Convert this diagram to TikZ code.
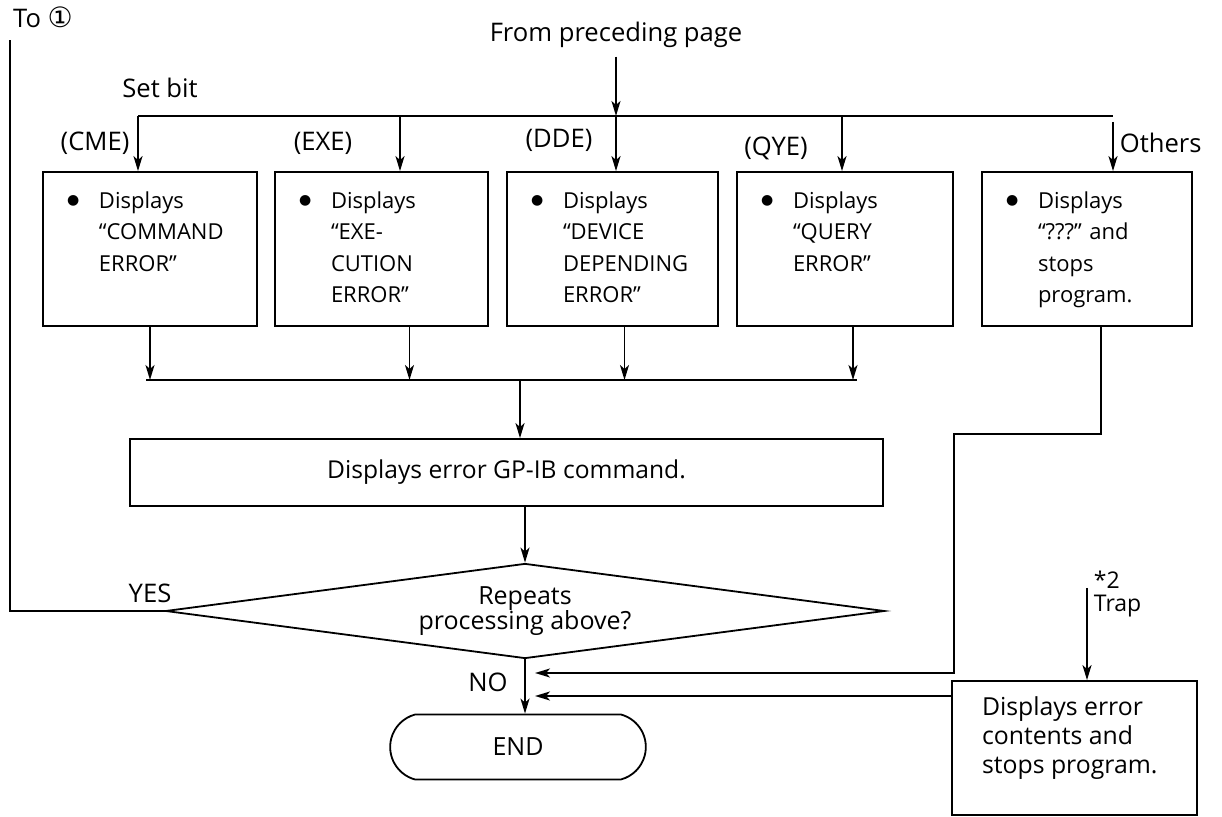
\documentclass[tikz,border=0pt]{standalone}
\usepackage{fontspec}
\setmainfont{Open Sans}
\newfontfamily\symfont{DejaVu Sans}
\usetikzlibrary{arrows.meta, shapes.geometric, shapes.misc}
\tikzset{every path/.style={line width=0.9pt}}
\tikzset{
  arr/.style={-{Stealth[length=7.5pt,width=4.5pt,inset=2pt]}},
  errbox/.style={draw, minimum height=77pt, inner sep=0pt},
  procbox/.style={draw, inner sep=0pt},
  boxtext/.style={anchor=north west, inner sep=0pt, font=\fontsize{11}{15.8}\selectfont},
  lbl/.style={inner sep=0pt, font=\fontsize{12.8}{14}\selectfont},
}
\newcommand{\bulletlines}[1]{%
  \begin{tabular}{@{}p{16pt}@{}l@{}}\raisebox{1.6pt}{\symfont\fontsize{7}{7}\selectfont ●} & #1\end{tabular}}

\begin{document}
\begin{tikzpicture}[x=0.5pt, y=-0.5pt]
    \useasboundingbox (0,0) rectangle (1222,817);

    % entry and branches

    \node[lbl] (from) at (616,35) {From preceding page};
    \node[lbl] (to1) at (43,17) {To {\symfont\fontsize{14}{14}\selectfont ①}};
    \node[lbl] (setbit) at (160,88) {Set bit};
    \coordinate (busl) at (138,116);
    \coordinate (busr) at (1113,116);
    \coordinate (bexe) at (400,116);
    \coordinate (bdde) at (616,116);
    \coordinate (bqye) at (842,116);
    \draw[arr] ([yshift=-4pt]from.south) -- (from.south |- busl);
    \draw (busl) -- (busr);

    \node[errbox, minimum width=107pt] (cme) at (150,249) {};
    \node[errbox, minimum width=106.5pt] (exe) at (381.5,249) {};
    \node[errbox, minimum width=105.5pt] (dde) at (612.5,249) {};
    \node[errbox, minimum width=108pt] (qye) at (845,249) {};
    \node[errbox, minimum width=105pt] (oth) at (1087,249) {};

    \node[boxtext] (cmetxt) at ([xshift=12pt,yshift=-7pt]cme.north west) {\bulletlines{Displays\\ & “COMMAND\\ & ERROR”}};
    \node[boxtext] (exetxt) at ([xshift=12pt,yshift=-7pt]exe.north west) {\bulletlines{Displays\\ & “EXE-\\ & CUTION\\ & ERROR”}};
    \node[boxtext] (ddetxt) at ([xshift=12pt,yshift=-7pt]dde.north west) {\bulletlines{Displays\\ & “DEVICE\\ & DEPENDING\\ & ERROR”}};
    \node[boxtext] (qyetxt) at ([xshift=12pt,yshift=-7pt]qye.north west) {\bulletlines{Displays\\ & “QUERY\\ & ERROR”}};
    \node[boxtext] (othtxt) at ([xshift=12pt,yshift=-7pt]oth.north west) {\bulletlines{Displays\\ & “???” and\\ & stops\\ & program.}};

    \draw[arr] (busl) -- (busl |- cme.north);
    \draw[arr] (bexe) -- (bexe |- exe.north);
    \draw[arr] (bdde) -- (bdde |- dde.north);
    \draw[arr] (bqye) -- (bqye |- qye.north);
    \draw[arr] ([yshift=-3pt]busr) -- (busr |- oth.north);

    \node[lbl] (lcme) at (95,143) {(CME)};
    \node[lbl] (lexe) at (323,143) {(EXE)};
    \node[lbl] (ldde) at (559,140) {(DDE)};
    \node[lbl] (lqye) at (776,148) {(QYE)};
    \node[lbl, anchor=west] (loth) at (1119,143) {Others};

    % merge

    \coordinate (bus2l) at (146,380);
    \coordinate (bus2r) at (857,380);
    \coordinate (bus2m) at (520,380);
    \draw (bus2l) -- (bus2r);
    \draw[arr] (cme.south) -- (cme.south |- bus2l);
    \draw[arr] ([xshift=14pt]exe.south) -- ([xshift=14pt]exe.south |- bus2l);
    \draw[arr] ([xshift=6pt]dde.south) -- ([xshift=6pt]dde.south |- bus2l);
    \draw[arr] ([xshift=4pt]qye.south) -- ([xshift=4pt]qye.south |- bus2l);

    \node[procbox, minimum width=376.5pt, minimum height=33.5pt, font=\fontsize{12.3}{14}\selectfont] (gpib) at (506.5,472.5) {Displays error GP-IB command.};
    \draw[arr] (bus2m) -- (bus2m |- gpib.north);

    \node[diamond, draw, minimum width=359.5pt, minimum height=47.5pt, inner sep=0pt] (rep) at (525,611) {};
    \node[lbl, align=center, font=\fontsize{12.5}{12.5}\selectfont] (reptxt) at (525,611) {Repeats\\processing above?};
    \draw[arr] (gpib.south -| rep.north) -- (rep.north);

    \node[rounded rectangle, rounded rectangle arc length=150, draw, minimum width=134.5pt, minimum height=32.5pt, font=\fontsize{12.5}{14}\selectfont] (end) at (518,747) {END};
    \draw[arr] (rep.south) -- (rep.south |- end.north);

    \node[lbl] (yes) at (150,593) {YES};
    \node[lbl] (no) at (488,682) {NO};
    \coordinate (toend) at (10,40);
    \draw (rep.west) -| (toend);

    % others and trap

    \coordinate (bend) at (954,434);
    \coordinate (notip1) at (535,673);
    \coordinate (notip2) at (535,696);
    \draw[arr] ([xshift=7pt]oth.south) |- (bend) |- (notip1);

    \node[procbox, minimum width=122.5pt, minimum height=67pt] (trap) at (1074.5,748) {};
    \node[inner sep=0pt, anchor=north west, align=left, font=\fontsize{12.4}{14.5}\selectfont] (traptxt) at ([xshift=15pt,yshift=-8pt]trap.north west) {Displays error\\contents and\\stops program.};
    \draw[arr] (trap.west |- notip2) -- (notip2);

    \coordinate (trapin) at (1087,588);
    \draw[arr] (trapin) -- (trapin |- trap.north);
    \node[inner sep=0pt, anchor=north west, align=left, font=\fontsize{11.5}{11.5}\selectfont] (traplbl) at (1093,570) {*2\\Trap};
\end{tikzpicture}
\end{document}
